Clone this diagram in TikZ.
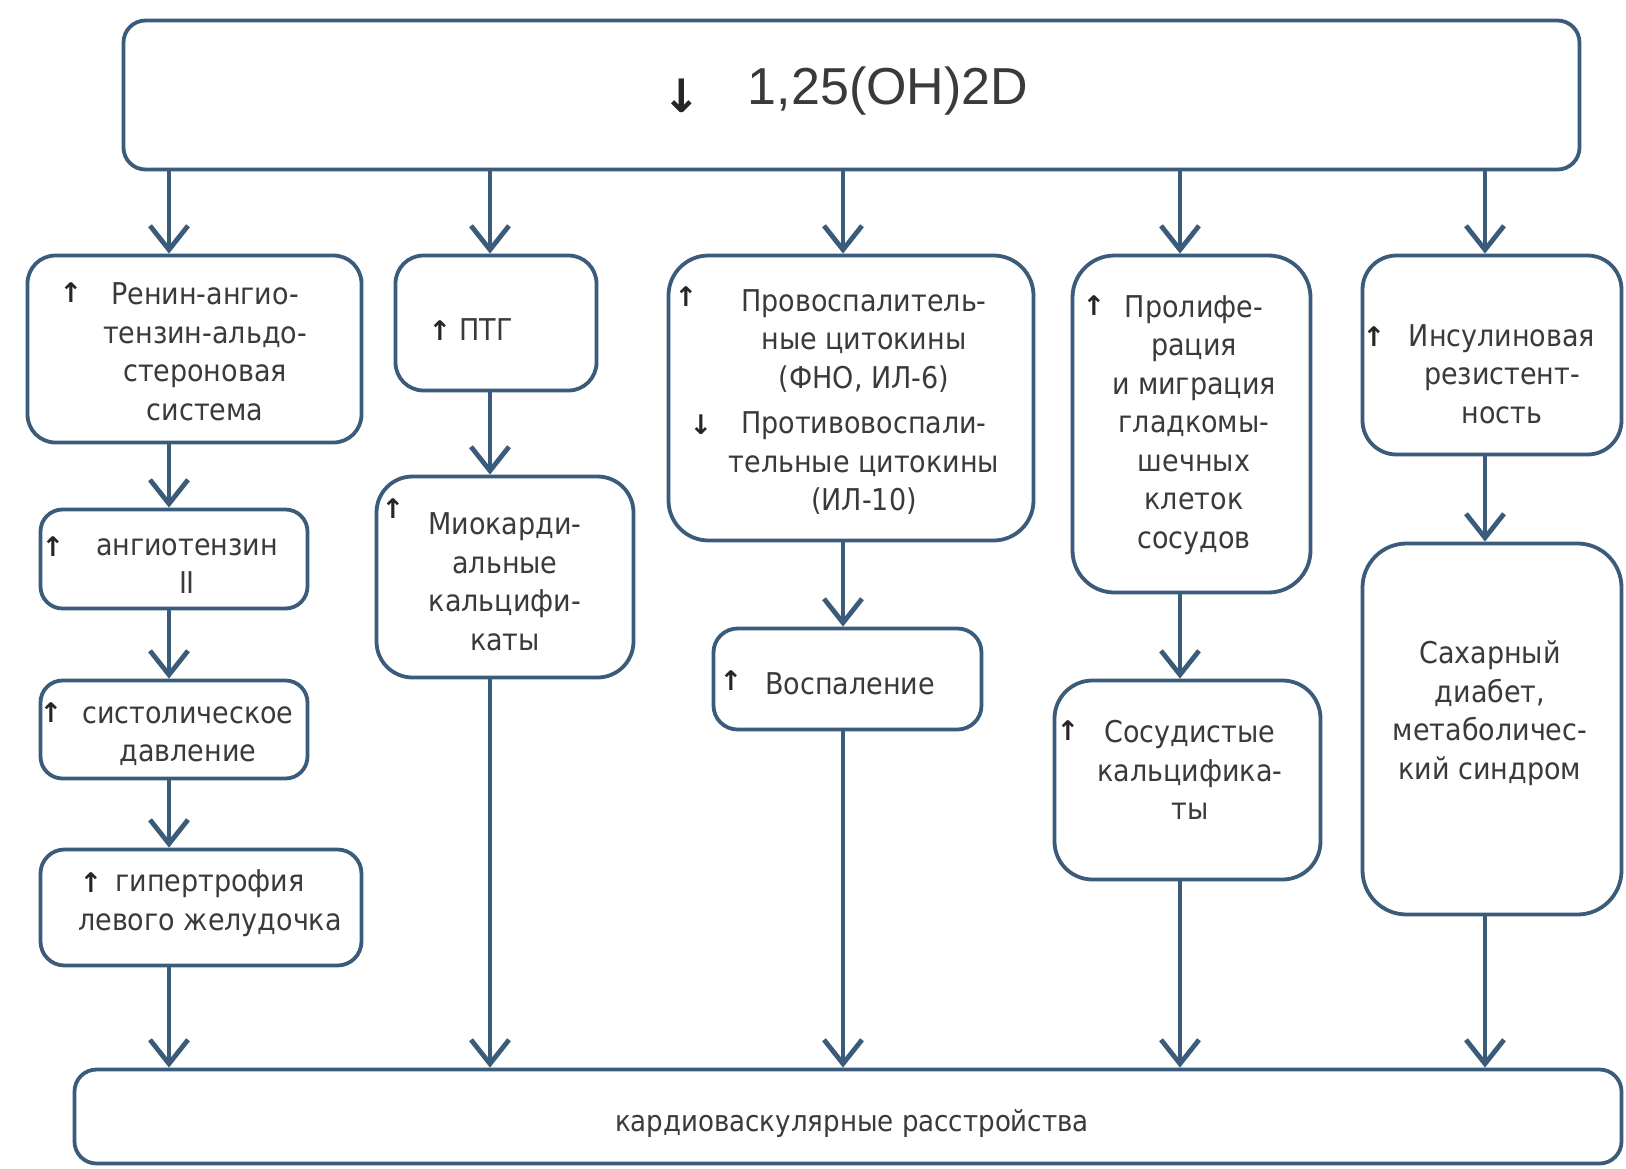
\documentclass[tikz,border=0pt]{standalone}
\usepackage{fontspec}
\setmainfont{DejaVu Sans Condensed}
\newfontfamily\titlefont{Liberation Sans}
\newfontfamily\symfont{DejaVu Sans}
\usetikzlibrary{arrows.meta}
\definecolor{lc}{HTML}{3B5B7A}
\definecolor{tc}{HTML}{3A3A3A}
\begin{document}
\begin{tikzpicture}[x=1pt,y=-1pt,
  bx/.style={draw=lc, line width=3.8pt, rounded corners=28pt, fill=white, inner sep=0pt},
  txt/.style={align=center, text=tc, inner sep=0pt, font=\fontsize{30}{38.5}\selectfont},
  sym/.style={inner sep=0pt, text=black!85, font=\symfont\bfseries\fontsize{27}{27}\selectfont},
  arr/.style={draw=lc, line width=4.8pt, -{Straight Barb[length=24pt,width=38pt]}}]
\useasboundingbox[fill=white] (0,0) rectangle (1626,1168);

% column coordinates
\coordinate (c1) at (169,0);
\coordinate (c2) at (490,0);
\coordinate (c3) at (843,0);
\coordinate (c4) at (1180,0);
\coordinate (c5) at (1485,0);

% top box
\node[bx, rounded corners=22pt, minimum width=1456pt, minimum height=149pt] (top) at (851.5,95) {};
\node[sym, font=\symfont\bfseries\fontsize{46}{46}\selectfont] (topa) at (682,96) {↓};
\node[inner sep=0pt, text=tc, font=\titlefont\fontsize{52}{52}\selectfont] (topt) at (888,91) {1,25(OH)2D};

% row 1
\node[bx, minimum width=334pt, minimum height=187pt] (raas) at (194.5,349) {};
\node[bx, minimum width=201pt, minimum height=135pt] (ptg) at (496,323) {};
\node[bx, rounded corners=40pt, minimum width=365pt, minimum height=285pt] (cyt) at (851,398) {};
\node[bx, rounded corners=42pt, minimum width=238pt, minimum height=337pt] (prol) at (1191.5,424) {};
\node[bx, rounded corners=34pt, minimum width=259pt, minimum height=199pt] (ins) at (1492,355) {};

% row 2
\node[bx, rounded corners=22pt, minimum width=267pt, minimum height=99pt] (ang) at (174,559) {};
\node[bx, rounded corners=36pt, minimum width=257pt, minimum height=201pt] (myo) at (505,577) {};
\node[bx, rounded corners=24pt, minimum width=268pt, minimum height=101pt] (infl) at (847.5,679) {};
\node[bx, rounded corners=38pt, minimum width=266pt, minimum height=199pt] (vasc) at (1187.5,780) {};
\node[bx, rounded corners=44pt, minimum width=259pt, minimum height=371pt] (diab) at (1492,729) {};

% left column lower boxes
\node[bx, rounded corners=22pt, minimum width=267pt, minimum height=98pt] (syst) at (174,729.5) {};
\node[bx, rounded corners=24pt, minimum width=321pt, minimum height=116pt] (hyp) at (201,907.5) {};

% bottom box
\node[bx, rounded corners=22pt, minimum width=1547pt, minimum height=94pt] (bot) at (848,1116.5) {};

% texts
\node[txt] (raast) at (205,352) {Ренин-ангио-\\тензин-альдо-\\стероновая\\система};
\node[sym] (raasa) at (71,293) {↑};
\node[sym] (ptga) at (440,331) {↑};
\node[txt] (ptgt) at (486,330) {ПТГ};
\node[txt] (myot) at (505,582) {Миокарди-\\альные\\кальцифи-\\каты};
\node[sym] (myoa) at (393,509) {↑};
\node[txt] (cytt) at (864,402) {Провоспалитель-\\ные цитокины\\(ФНО, ИЛ-6)\\[7pt]Противовоспали-\\тельные цитокины\\(ИЛ-10)};
\node[sym] (cyta) at (686,297) {↑};
\node[sym] (cytb) at (701,425) {↓};
\node[txt] (inflt) at (850,684) {Воспаление};
\node[sym] (infla) at (731,681) {↑};
\node[txt] (prolt) at (1194,425) {Пролифе-\\рация\\и миграция\\гладкомы-\\шечных\\клеток\\сосудов};
\node[sym] (prola) at (1094,306) {↑};
\node[txt] (vasct) at (1190,770) {Сосудистые\\кальцифика-\\ты};
\node[sym] (vasca) at (1068,731) {↑};
\node[txt] (inst) at (1502,374) {Инсулиновая\\резистент-\\ность};
\node[sym] (insa) at (1374,337) {↑};
\node[txt] (diabt) at (1490,713) {Сахарный\\диабет,\\метаболичес-\\кий синдром};
\node[txt] (angt) at (187,566) {ангиотензин\\II};
\node[sym] (anga) at (53,547) {↑};
\node[txt] (systt) at (188,736) {систолическое\\давление};
\node[sym] (systa) at (51,713) {↑};
\node[txt] (hypt) at (210,903) {гипертрофия\\левого желудочка};
\node[sym] (hypa) at (91,883) {↑};
\node[txt, font=\fontsize{29}{34}\selectfont] (bott) at (852,1123) {кардиоваскулярные расстройства};

% connectors: column 1
\draw[arr] (top.south -| c1) -- (raas.north -| c1);
\draw[arr] (raas.south -| c1) -- (ang.north -| c1);
\draw[arr] (ang.south -| c1) -- (syst.north -| c1);
\draw[arr] (syst.south -| c1) -- (hyp.north -| c1);
\draw[arr] (hyp.south -| c1) -- (bot.north -| c1);
% column 2
\draw[arr] (top.south -| c2) -- (ptg.north -| c2);
\draw[arr] (ptg.south -| c2) -- (myo.north -| c2);
\draw[arr] (myo.south -| c2) -- (bot.north -| c2);
% column 3
\draw[arr] (top.south -| c3) -- (cyt.north -| c3);
\draw[arr] (cyt.south -| c3) -- (infl.north -| c3);
\draw[arr] (infl.south -| c3) -- (bot.north -| c3);
% column 4
\draw[arr] (top.south -| c4) -- (prol.north -| c4);
\draw[arr] (prol.south -| c4) -- (vasc.north -| c4);
\draw[arr] (vasc.south -| c4) -- (bot.north -| c4);
% column 5
\draw[arr] (top.south -| c5) -- (ins.north -| c5);
\draw[arr] (ins.south -| c5) -- (diab.north -| c5);
\draw[arr] (diab.south -| c5) -- (bot.north -| c5);
\end{tikzpicture}
\end{document}
